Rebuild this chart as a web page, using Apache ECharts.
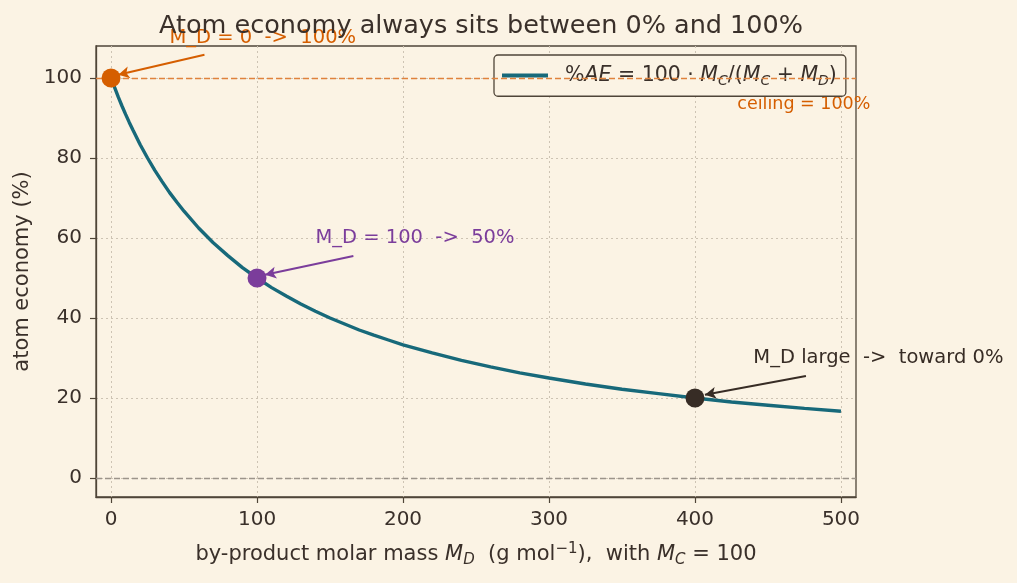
<!DOCTYPE html>
<html>
<head>
<meta charset="utf-8">
<script src="https://cdn.jsdelivr.net/npm/echarts@6/dist/echarts.min.js"></script>
<style>
html,body{margin:0;padding:0;background:#fbf3e4;}
#chart{width:1017px;height:583px;}
</style>
</head>
<body>
<div id="chart"></div>
<script>
// ---- data ----
const byProductMass = [0,2.5,5,7.5,10,12.5,15,20,25,30,35,40,45,50,60,70,80,90,100,110,120,130,140,150,160,170,180,190,200,220,240,260,280,300,325,350,375,400,425,450,475,500];
const atomEconomy   = [100,97.6,95.2,93.0,90.9,88.9,87.0,83.3,80.0,76.9,74.1,71.4,69.0,66.7,62.5,58.8,55.6,52.6,50.0,47.6,45.5,43.5,41.7,40.0,38.5,37.0,35.7,34.5,33.3,31.3,29.4,27.8,26.3,25.0,23.5,22.2,21.1,20.0,19.0,18.2,17.4,16.7];
const xTicks = [0,100,200,300,400,500];
const yTicks = [0,20,40,60,80,100];
const highlightPoints = [[0,100],[100,50],[400,20]];
const highlightLabels = ['M_D = 0  ->  100%','M_D = 100  ->  50%','M_D large  ->  toward 0%'];
const labelAnchors = [[40,110],[140,60],[440,30]];
const arrowStarts = [[64,105.8],[166,55.5],[476,25.5]];
const arrowEnds = [[5,100.8],[105.5,50.8],[406.8,20.8]];
const ceilingValue = 100;
const floorValue = 0;
const ceilingLabel = 'ceiling = 100%';
const ceilingLabelAnchor = [429,93.5];

const COL_CURVE = '#17697a';
const COL_ORANGE = '#d55e00';
const COL_PURPLE = '#7b3d9b';
const COL_DARK = '#372c25';
const COL_TEXT = '#3a302a';
const COL_AXIS = '#4f4538';
const COL_GRID = '#cdc3b3';
const pointColors = [COL_ORANGE, COL_PURPLE, COL_DARK];
const FONT = 'DejaVu Sans';

const chart = echarts.init(document.getElementById('chart'), null, {renderer:'canvas'});

const mathRich = (size) => ({
  r: {fontFamily: FONT, fontSize: size, color: COL_TEXT, lineHeight: size + 5},
  i: {fontFamily: FONT, fontSize: size, fontStyle: 'italic', color: COL_TEXT, lineHeight: size + 5},
  s: {fontFamily: FONT, fontSize: Math.round(size*0.7), fontStyle: 'italic', color: COL_TEXT, lineHeight: Math.round(size*0.7), verticalAlign: 'bottom'},
  sup: {fontFamily: FONT, fontSize: Math.round(size*0.7), color: COL_TEXT, lineHeight: Math.round(size*0.7), verticalAlign: 'top'}
});

const curveData = byProductMass.map((x, i) => [x, atomEconomy[i]]);

const annotationSeries = highlightPoints.map((p, i) => ({
  type: 'scatter',
  name: 'pt' + i,
  data: [p],
  symbol: 'circle',
  symbolSize: 19,
  itemStyle: {color: pointColors[i], opacity: 1},
  z: 5,
  clip: false,
  markLine: {
    silent: true,
    symbol: ['none', 'arrow'],
    symbolSize: [9, 11],
    lineStyle: {color: pointColors[i], width: 2, type: 'solid', opacity: 1},
    label: {show: false},
    data: [[{coord: arrowStarts[i]}, {coord: arrowEnds[i]}]],
    animation: false
  }
}));

const labelSeries = labelAnchors.map((p, i) => ({
  type: 'scatter',
  name: 'lbl' + i,
  data: [p],
  symbolSize: 0,
  clip: false,
  silent: true,
  z: 1,
  itemStyle: {color: pointColors[i], opacity: 1},
  label: {
    show: true, position: 'right', distance: 0,
    formatter: highlightLabels[i], opacity: 1,
    color: pointColors[i], fontFamily: FONT, fontSize: 19.5
  }
}));

const option = {
  backgroundColor: '#fbf3e4',
  animation: false,
  title: {
    text: 'Atom economy always sits between 0% and 100%',
    left: 476, top: 8, textAlign: 'center',
    textStyle: {fontFamily: FONT, fontSize: 25.5, fontWeight: 'normal', color: COL_TEXT}
  },
  legend: {
    left: 494, top: 55,
    data: [{name: 'ae', icon: 'rect'}],
    itemWidth: 46, itemHeight: 4,
    itemGap: 10,
    padding: [10, 9, 8, 8],
    backgroundColor: '#fbf3e4',
    borderColor: COL_AXIS, borderWidth: 1.3, borderRadius: 4,
    formatter: () => '{r|%}{i|AE}{r| = 100 · }{i|M}{s|C}{r|/(}{i|M}{s|C}{r| + }{i|M}{s|D}{r|)}',
    textStyle: {rich: mathRich(20.5), padding: [0,0,0,12]}
  },
  grid: {
    left: 96, right: 161, top: 46, bottom: 86,
    show: true, borderColor: COL_AXIS, borderWidth: 1.3,
    backgroundColor: 'transparent',
    containLabel: false
  },
  xAxis: {
    type: 'value', min: -10.3, max: 510.3,
    name: '{r|by-product molar mass }{i|M}{s|D}{r|  (g mol}{sup|−1}{r|),  with }{i|M}{s|C}{r| = 100}',
    nameLocation: 'middle', nameGap: 45,
    nameTextStyle: {rich: mathRich(21)},
    axisLine: {show: true, onZero: false, lineStyle: {color: COL_AXIS, width: 1.3}},
    axisTick: {show: true, customValues: xTicks, length: 6, lineStyle: {color: COL_AXIS, width: 1.2}},
    axisLabel: {customValues: xTicks, margin: 13, fontFamily: FONT, fontSize: 20, color: COL_TEXT},
    splitLine: {show: true, lineStyle: {color: COL_GRID, type: [2, 3], width: 1}}
  },
  yAxis: {
    type: 'value', min: -4.75, max: 108,
    name: 'atom economy (%)',
    nameLocation: 'middle', nameGap: 63, nameRotate: 90,
    nameTextStyle: {fontFamily: FONT, fontSize: 21, color: COL_TEXT},
    axisLine: {show: true, onZero: false, lineStyle: {color: COL_AXIS, width: 1.3}},
    axisTick: {show: true, customValues: yTicks, length: 6, lineStyle: {color: COL_AXIS, width: 1.2}},
    axisLabel: {customValues: yTicks, margin: 14, fontFamily: FONT, fontSize: 20, color: COL_TEXT},
    splitLine: {show: true, lineStyle: {color: COL_GRID, type: [2, 3], width: 1}}
  },
  series: [
    {
      type: 'line',
      name: 'ae',
      data: curveData,
      showSymbol: false,
      symbol: 'none',
      smooth: false,
      lineStyle: {color: COL_CURVE, width: 3.4},
      itemStyle: {color: COL_CURVE},
      z: 3,
      markLine: {
        silent: true,
        symbol: ['none', 'none'],
        label: {show: false},
        data: [
          {yAxis: ceilingValue, lineStyle: {color: '#e0823c', type: [6, 3], width: 1.3}},
          {yAxis: floorValue, lineStyle: {color: '#9c948a', type: [6, 3], width: 1.3}}
        ]
      }
    },
    ...annotationSeries,
    ...labelSeries,
    {
      type: 'scatter',
      name: 'ceilingLbl',
      data: [ceilingLabelAnchor],
      symbolSize: 0,
      clip: false,
      silent: true,
      itemStyle: {color: COL_ORANGE, opacity: 1},
      label: {show: true, position: 'right', distance: 0, formatter: ceilingLabel, opacity: 1,
        color: COL_ORANGE, fontFamily: FONT, fontSize: 17.5}
    }
  ]
};
chart.setOption(option);
</script>
</body>
</html>
